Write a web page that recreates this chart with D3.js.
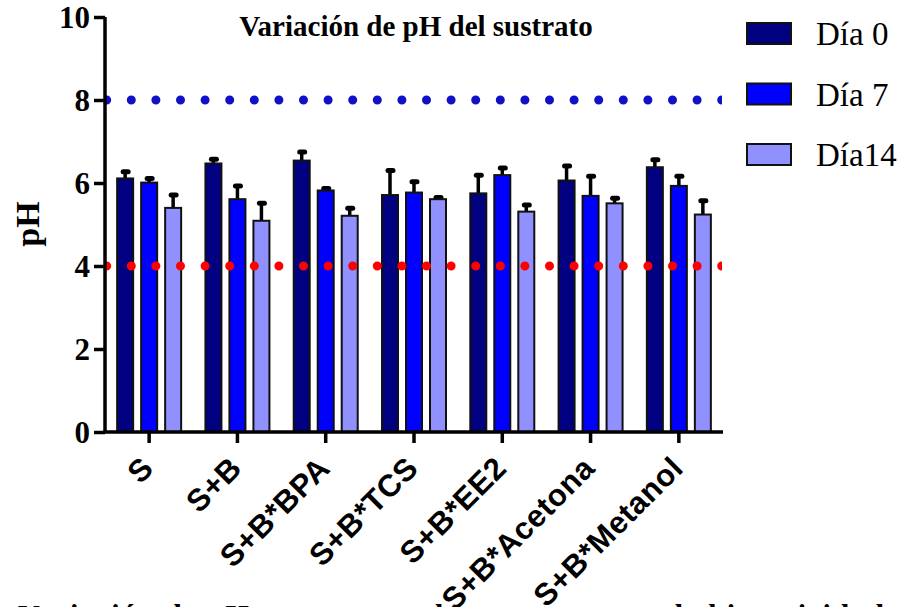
<!DOCTYPE html>
<html>
<head>
<meta charset="utf-8">
<script src="https://cdn.jsdelivr.net/npm/d3@7"></script>
<style>
  html, body { margin: 0; padding: 0; background: #fff; }
  svg { display: block; }
</style>
</head>
<body>
<svg id="chart" width="908" height="607"></svg>
<script>
// Treatments along the x axis
const categories = ["S", "S+B", "S+B*BPA", "S+B*TCS", "S+B*EE2", "S+B*Acetona", "S+B*Metanol"];
// Series names (legend)
const seriesNames = ["Día 0", "Día 7", "Día14"];
// Mean pH per treatment
const dia0 = [6.11, 6.47, 6.54, 5.71, 5.75, 6.06, 6.38];
const dia7 = [6.01, 5.61, 5.82, 5.77, 6.19, 5.69, 5.93];
const dia14 = [5.40, 5.09, 5.21, 5.61, 5.31, 5.51, 5.24];
// Standard deviation (upper error bars)
const err0 = [0.22, 0.16, 0.27, 0.65, 0.50, 0.41, 0.24];
const err7 = [0.16, 0.38, 0.11, 0.32, 0.23, 0.53, 0.29];
const err14 = [0.37, 0.48, 0.24, 0.10, 0.22, 0.18, 0.39];
// Y axis ticks and reference limits
const yTicks = [0, 2, 4, 6, 8, 10];
const upperLimit = 8;
const lowerLimit = 4;

const colors = ["#000080", "#0000ff", "#9090ff"];
const values = [dia0, dia7, dia14];
const errors = [err0, err7, err14];

const svg = d3.select("#chart");
const serif = "'Liberation Serif', 'Times New Roman', serif";
const sans = "'Liberation Sans', Arial, sans-serif";

const plotLeft = 105, plotRight = 723, plotTop = 17, plotBottom = 432;

const y = d3.scaleLinear().domain([0, 10]).range([plotBottom, plotTop]);
const x = d3.scaleBand().domain(categories).range([plotLeft, plotRight]);
const xs = d3.scaleBand().domain(seriesNames).range([-36, 36])
  .paddingInner(1 / 3).paddingOuter(1 / 6);

svg.append("defs").append("clipPath").attr("id", "plotClip")
  .append("rect").attr("x", plotLeft).attr("y", 0)
  .attr("width", plotRight - 1 - plotLeft).attr("height", plotBottom);

// Bars and error bars
const rows = [];
categories.forEach((cat, i) => {
  seriesNames.forEach((s, j) => {
    rows.push({ cat, s, j, v: values[j][i], e: errors[j][i] });
  });
});

const g = svg.append("g");
const cx = d => x(d.cat) + x.bandwidth() / 2 + xs(d.s) + xs.bandwidth() / 2;

// error stems
g.selectAll("line.stem").data(rows).join("line").attr("class", "stem")
  .attr("x1", cx).attr("x2", cx)
  .attr("y1", d => y(d.v)).attr("y2", d => y(d.v + d.e) + 2)
  .attr("stroke", "#000").attr("stroke-width", 3.5);
// error caps
g.selectAll("line.cap").data(rows).join("line").attr("class", "cap")
  .attr("x1", d => cx(d) - 2).attr("x2", d => cx(d) + 3)
  .attr("y1", d => y(d.v + d.e) + 2.5).attr("y2", d => y(d.v + d.e) + 2.5)
  .attr("stroke", "#000").attr("stroke-width", 5).attr("stroke-linecap", "round");

g.selectAll("rect.bar").data(rows).join("rect").attr("class", "bar")
  .attr("x", d => x(d.cat) + x.bandwidth() / 2 + xs(d.s))
  .attr("width", xs.bandwidth())
  .attr("y", d => y(d.v))
  .attr("height", d => y(0) - y(d.v))
  .attr("fill", d => colors[d.j])
  .attr("stroke", "#111").attr("stroke-width", 2);

// Dotted reference lines at pH 8 and pH 4, drawn over the bars
const refs = [{ v: upperLimit, c: "#1010c8" }, { v: lowerLimit, c: "#ff0000" }];
svg.append("g").attr("clip-path", "url(#plotClip)")
  .selectAll("line").data(refs).join("line")
  .attr("x1", plotLeft + 1.7).attr("x2", plotRight + 10)
  .attr("y1", d => y(d.v)).attr("y2", d => y(d.v))
  .attr("stroke", d => d.c)
  .attr("stroke-width", 9)
  .attr("stroke-linecap", "round")
  .attr("stroke-dasharray", "0 24.6");

// Y axis
const yAxis = svg.append("g").attr("transform", `translate(${plotLeft},0)`)
  .call(d3.axisLeft(y).tickValues(yTicks).tickSize(11).tickPadding(4).tickFormat(d3.format("d")));
yAxis.select(".domain").attr("stroke", "#000").attr("stroke-width", 3.5)
  .attr("d", `M0,${plotTop}V${plotBottom}`);
yAxis.selectAll(".tick line").attr("stroke", "#000").attr("stroke-width", 3.5);
yAxis.selectAll(".tick text")
  .attr("font-family", serif).attr("font-weight", "bold").attr("font-size", 31)
  .attr("fill", "#000").attr("dy", "0.34em");

// X axis
const xAxis = svg.append("g").attr("transform", `translate(0,${plotBottom})`)
  .call(d3.axisBottom(x).tickSize(11).tickPadding(0));
xAxis.select(".domain").attr("stroke", "#000").attr("stroke-width", 3.5)
  .attr("d", `M${plotLeft - 1.5},0H${plotRight}`);
xAxis.selectAll(".tick line").attr("stroke", "#000").attr("stroke-width", 3.5);
xAxis.selectAll(".tick text")
  .attr("font-family", sans).attr("font-weight", "bold").attr("font-size", 31)
  .attr("letter-spacing", 0.5)
  .attr("fill", "#000")
  .attr("text-anchor", "end")
  .attr("y", 0).attr("dy", 0)
  .attr("transform", "translate(6,38) rotate(-45)");

// Y axis title
svg.append("text")
  .attr("transform", "translate(39,224) rotate(-90)")
  .attr("text-anchor", "middle")
  .attr("font-family", serif).attr("font-weight", "bold").attr("font-size", 34)
  .text("pH");

// Chart title
svg.append("text")
  .attr("x", 416).attr("y", 36)
  .attr("text-anchor", "middle")
  .attr("font-family", serif).attr("font-weight", "bold").attr("font-size", 29)
  .text("Variación de pH del sustrato");

// Legend
const legend = svg.append("g").selectAll("g").data(seriesNames).join("g")
  .attr("transform", (d, i) => `translate(747,${23 + i * 60.5})`);
legend.append("rect").attr("width", 44).attr("height", 21)
  .attr("fill", (d, i) => colors[i]).attr("stroke", "#111").attr("stroke-width", 2);
legend.append("text").attr("x", 69).attr("y", 22)
  .attr("font-family", serif).attr("font-size", 33).attr("fill", "#000")
  .text(d => d);

// Caption underneath (runs off the bottom edge)
svg.append("text")
  .attr("x", 18).attr("y", 625)
  .attr("font-family", serif).attr("font-weight", "bold").attr("font-size", 30)
  .attr("textLength", 866).attr("lengthAdjust", "spacing")
  .text("Variación de pH en sustrato durante ensayos de biotoxicidad");
</script>
</body>
</html>
